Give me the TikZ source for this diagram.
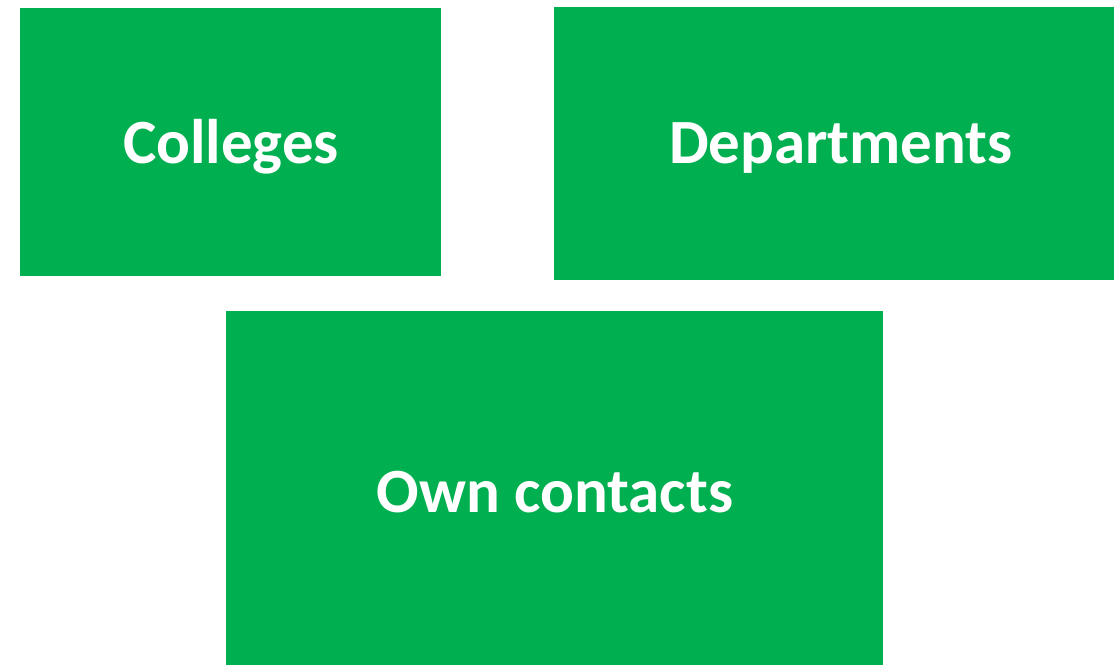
\documentclass[tikz,border=0pt]{standalone}
\usepackage{fontspec}
\setmainfont{Carlito}
\definecolor{boxgreen}{HTML}{00AF50}
\begin{document}
\begin{tikzpicture}[x=1pt,y=-1pt,
  gbox/.style={fill=boxgreen,draw=none},
  lbl/.style={anchor=base,text=white,font=\fontsize{63}{75}\selectfont\bfseries,inner sep=0pt}]
\useasboundingbox (0,0) rectangle (1114,671);
\fill[gbox] (20,8) rectangle (441,276);
\fill[gbox] (554,7) rectangle (1114,280);
\fill[gbox] (226,311) rectangle (883,665);
\node[lbl] (colleges) at (231,164) {Colleges};
\node[lbl] (departments) at (841,164) {Departments};
\node[lbl] (own) at (555,512) {Own contacts};
\end{tikzpicture}
\end{document}
